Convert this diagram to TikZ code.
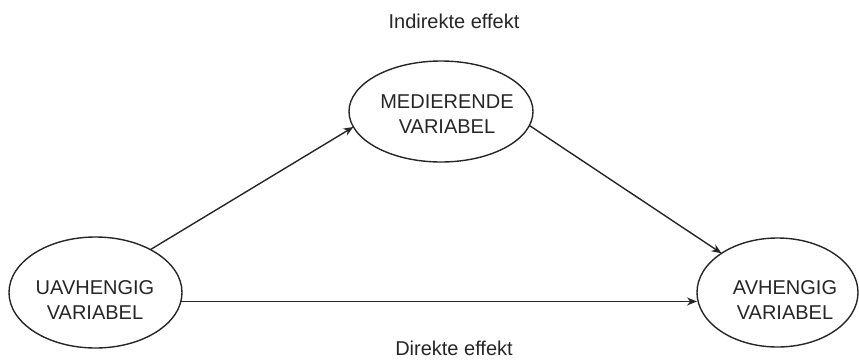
\documentclass[tikz,border=0pt]{standalone}
\usepackage{fontspec}
\setmainfont{Liberation Sans}
\usetikzlibrary{shapes.geometric,arrows.meta}
\begin{document}
\begin{tikzpicture}[x=1pt,y=-1pt,
  varshape/.style={draw=black!85, line width=1.4pt, ellipse, inner sep=0pt, outer sep=0pt},
  vartext/.style={align=center, inner sep=0pt, font=\fontsize{20}{25}\selectfont, text=black!85},
  effekttext/.style={inner sep=0pt, anchor=base, font=\fontsize{20}{25}\selectfont, text=black!85},
  effektarrow/.style={draw=black!85, line width=1.4pt, -{Stealth[length=10pt,width=8pt]}}]
\useasboundingbox (0,0) rectangle (859,359);

% the three variables
\node[varshape, minimum width=173pt, minimum height=111pt] (uav) at (95.5,292.5) {};
\node[varshape, minimum width=184pt, minimum height=101pt] (med) at (441,111.5) {};
\node[varshape, minimum width=161pt, minimum height=109pt] (avh) at (777.5,292.5) {};

\node[vartext] (uavtxt) at (95,300) {UAVHENGIG\\VARIABEL};
\node[vartext] (medtxt) at (447,114.5) {MEDIERENDE\\VARIABEL};
\node[vartext] (avhtxt) at (785,300) {AVHENGIG\\VARIABEL};

% effect labels
\node[effekttext] (indir) at (454,28) {Indirekte effekt};
\node[effekttext] (dir) at (454,355) {Direkte effekt};

% connectors
\draw[effektarrow] (uav.38) -- (med.190);
\draw[effektarrow] (med.351) -- (avh.145);
\draw[effektarrow] (uav.354) -- (uav.354 -| avh.west);
\end{tikzpicture}
\end{document}
